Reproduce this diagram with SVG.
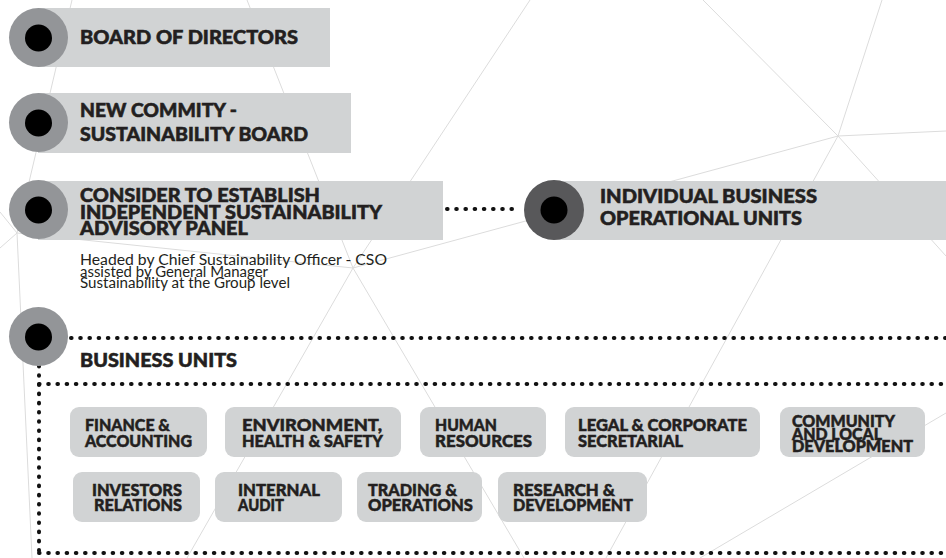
<svg xmlns="http://www.w3.org/2000/svg" width="946" height="558" viewBox="0 0 946 558">
  <defs>
    <style>
      .mesh line { stroke: #dcdcdc; stroke-width: 1; fill: none; }
      .bar { fill: #d1d3d4; }
      .unit rect { fill: #d1d3d4; }
      .ring { fill: #939598; }
      .ring-dark { fill: #58585a; }
      .dot { fill: #000; }
      .head { font-family: "Lato", "Liberation Sans", sans-serif; font-weight: 900; font-size: 19px; fill: #231f20; stroke: #231f20; stroke-width: 0.55; }
      .lbl { font-family: "Lato", "Liberation Sans", sans-serif; font-weight: 900; font-size: 17.5px; fill: #231f20; stroke: #231f20; stroke-width: 0.5; }
      .lbl-tight { font-size: 16px; }
      .note { font-family: "Lato", "Liberation Sans", sans-serif; font-weight: 400; font-size: 14.5px; fill: #231f20; }
      .dots { stroke: #111; stroke-width: 4; stroke-linecap: round; stroke-dasharray: 0.6 8.6; fill: none; }
    </style>
  </defs>

  <rect width="946" height="558" fill="#ffffff"/>

  <!-- faint triangular mesh behind everything -->
  <g class="mesh" id="mesh">
    <line x1="72" y1="0" x2="17" y2="233"/>
    <line x1="0" y1="212" x2="17" y2="233"/>
    <line x1="0" y1="248" x2="17" y2="233"/>
    <line x1="17" y1="233" x2="32" y2="558"/>
    <line x1="17" y1="233" x2="353" y2="268"/>
    <line x1="247" y1="0" x2="353" y2="268"/>
    <line x1="530" y1="0" x2="353" y2="268"/>
    <line x1="353" y1="268" x2="838" y2="136"/>
    <line x1="353" y1="268" x2="187" y2="558"/>
    <line x1="353" y1="268" x2="524" y2="558"/>
    <line x1="703" y1="0" x2="838" y2="136"/>
    <line x1="882" y1="0" x2="838" y2="136"/>
    <line x1="838" y1="136" x2="946" y2="131"/>
    <line x1="838" y1="136" x2="606" y2="558"/>
    <line x1="838" y1="136" x2="946" y2="256"/>
    <line x1="946" y1="413" x2="700" y2="558"/>
  </g>

  <!-- dotted connectors -->
  <g id="connectors">
    <line class="dots" x1="447" y1="209" x2="518" y2="209"/>
    <line class="dots" x1="71" y1="338" x2="946" y2="338"/>
    <line class="dots" x1="39" y1="366" x2="39" y2="553"/>
    <line class="dots" x1="39" y1="384" x2="946" y2="384"/>
    <line class="dots" x1="39" y1="553" x2="946" y2="553"/>
  </g>

  <g id="board">
    <rect class="bar" x="38" y="8" width="292" height="59"/>
    <circle class="ring" cx="38.5" cy="37.5" r="29.5"/>
    <circle class="dot" cx="38.5" cy="38" r="13.5"/>
    <text class="head" x="80" y="44" textLength="218" lengthAdjust="spacingAndGlyphs">BOARD OF DIRECTORS</text>
  </g>

  <g id="sustainability-board">
    <rect class="bar" x="38" y="93" width="313" height="60"/>
    <circle class="ring" cx="38.5" cy="122.5" r="29.5"/>
    <circle class="dot" cx="38.5" cy="123" r="13.5"/>
    <text class="head" x="80" y="117" textLength="157" lengthAdjust="spacingAndGlyphs">NEW COMMITY -</text>
    <text class="head" x="80" y="141" textLength="228" lengthAdjust="spacingAndGlyphs">SUSTAINABILITY BOARD</text>
  </g>

  <g id="advisory-panel">
    <rect class="bar" x="38" y="181" width="405" height="59"/>
    <circle class="ring" cx="38.5" cy="209.5" r="29.5"/>
    <circle class="dot" cx="38.5" cy="210" r="13.5"/>
    <text class="head" x="80" y="202" textLength="240" lengthAdjust="spacingAndGlyphs">CONSIDER TO ESTABLISH</text>
    <text class="head" x="80" y="219" textLength="302" lengthAdjust="spacingAndGlyphs">INDEPENDENT SUSTAINABILITY</text>
    <text class="head" x="80" y="235" textLength="168" lengthAdjust="spacingAndGlyphs">ADVISORY PANEL</text>
    <text class="note" x="80" y="265" textLength="307" lengthAdjust="spacingAndGlyphs">Headed by Chief Sustainability Officer - CSO</text>
    <text class="note" x="80" y="276.5" textLength="188" lengthAdjust="spacingAndGlyphs">assisted by General Manager</text>
    <text class="note" x="80" y="288" textLength="210" lengthAdjust="spacingAndGlyphs">Sustainability at the Group level</text>
  </g>

  <g id="operational-units">
    <rect class="bar" x="553" y="181" width="393" height="59"/>
    <circle class="ring-dark" cx="554" cy="210" r="30"/>
    <circle class="dot" cx="554" cy="210" r="13.5"/>
    <text class="head" x="600" y="203" textLength="217" lengthAdjust="spacingAndGlyphs">INDIVIDUAL BUSINESS</text>
    <text class="head" x="600" y="225" textLength="202" lengthAdjust="spacingAndGlyphs">OPERATIONAL UNITS</text>
  </g>

  <g id="business-units">
    <circle class="ring" cx="38.5" cy="336.5" r="29.5"/>
    <circle class="dot" cx="38.5" cy="337" r="13.5"/>
    <text class="head" x="80" y="367" textLength="157" lengthAdjust="spacingAndGlyphs">BUSINESS UNITS</text>
  </g>

  <!-- business unit tiles, row 1 -->
  <g id="finance" class="unit">
    <rect x="70" y="407" width="137" height="50" rx="9"/>
    <text class="lbl" x="85" y="431" textLength="85" lengthAdjust="spacingAndGlyphs">FINANCE &amp;</text>
    <text class="lbl" x="85" y="447" textLength="107" lengthAdjust="spacingAndGlyphs">ACCOUNTING</text>
  </g>
  <g id="ehs" class="unit">
    <rect x="225" y="407" width="176" height="50" rx="9"/>
    <text class="lbl" x="242" y="431" textLength="140" lengthAdjust="spacingAndGlyphs">ENVIRONMENT,</text>
    <text class="lbl" x="242" y="447" textLength="141" lengthAdjust="spacingAndGlyphs">HEALTH &amp; SAFETY</text>
  </g>
  <g id="hr" class="unit">
    <rect x="420" y="407" width="126" height="50" rx="9"/>
    <text class="lbl" x="435" y="431" textLength="62" lengthAdjust="spacingAndGlyphs">HUMAN</text>
    <text class="lbl" x="435" y="447" textLength="97" lengthAdjust="spacingAndGlyphs">RESOURCES</text>
  </g>
  <g id="legal" class="unit">
    <rect x="565" y="407" width="195" height="50" rx="9"/>
    <text class="lbl" x="578" y="431" textLength="169" lengthAdjust="spacingAndGlyphs">LEGAL &amp; CORPORATE</text>
    <text class="lbl" x="578" y="447" textLength="105" lengthAdjust="spacingAndGlyphs">SECRETARIAL</text>
  </g>
  <g id="community" class="unit">
    <rect x="780" y="407" width="145" height="50" rx="9"/>
    <text class="lbl lbl-tight" x="792" y="427" textLength="103" lengthAdjust="spacingAndGlyphs">COMMUNITY</text>
    <text class="lbl lbl-tight" x="792" y="440" textLength="90" lengthAdjust="spacingAndGlyphs">AND LOCAL</text>
    <text class="lbl lbl-tight" x="792" y="452" textLength="121" lengthAdjust="spacingAndGlyphs">DEVELOPMENT</text>
  </g>

  <!-- business unit tiles, row 2 -->
  <g id="investors" class="unit">
    <rect x="73" y="472" width="127" height="50" rx="9"/>
    <text class="lbl" x="92" y="496" textLength="90" lengthAdjust="spacingAndGlyphs">INVESTORS</text>
    <text class="lbl" x="94" y="511" textLength="88" lengthAdjust="spacingAndGlyphs">RELATIONS</text>
  </g>
  <g id="audit" class="unit">
    <rect x="215" y="472" width="127" height="50" rx="9"/>
    <text class="lbl" x="238" y="496" textLength="82" lengthAdjust="spacingAndGlyphs">INTERNAL</text>
    <text class="lbl" x="238" y="511" textLength="46" lengthAdjust="spacingAndGlyphs">AUDIT</text>
  </g>
  <g id="trading" class="unit">
    <rect x="357" y="472" width="125" height="50" rx="9"/>
    <text class="lbl" x="368" y="496" textLength="89" lengthAdjust="spacingAndGlyphs">TRADING &amp;</text>
    <text class="lbl" x="368" y="511" textLength="105" lengthAdjust="spacingAndGlyphs">OPERATIONS</text>
  </g>
  <g id="research" class="unit">
    <rect x="498" y="472" width="149" height="50" rx="9"/>
    <text class="lbl" x="513" y="496" textLength="102" lengthAdjust="spacingAndGlyphs">RESEARCH &amp;</text>
    <text class="lbl" x="513" y="511" textLength="120" lengthAdjust="spacingAndGlyphs">DEVELOPMENT</text>
  </g>
</svg>
